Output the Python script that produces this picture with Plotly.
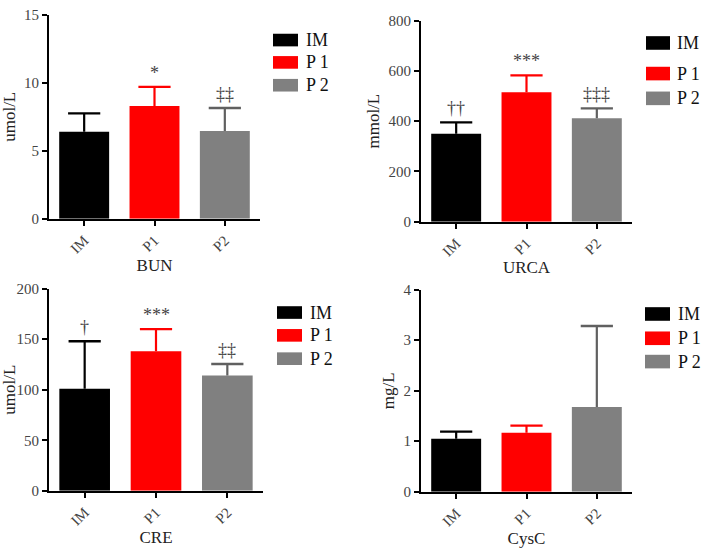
import plotly.graph_objects as go

W, H = 704, 559

groups = ["IM", "P1", "P2"]
legend_labels = ["IM", "P 1", "P 2"]
colors = ["#000000", "#ff0000", "#808080"]
err_colors = ["#000000", "#ff0000", "#606060"]

bun_mean = [6.4, 8.3, 6.45]
bun_sd = [1.35, 1.4, 1.7]
bun_sig = ["", "*", "‡‡"]

urca_mean = [350, 515, 412]
urca_sd = [45, 67, 39]
urca_sig = ["††", "***", "‡‡‡"]

cre_mean = [101, 138, 114]
cre_sd = [47, 22, 11.5]
cre_sig = ["†", "***", "‡‡"]

cysc_mean = [1.05, 1.17, 1.68]
cysc_sd = [0.14, 0.14, 1.6]
cysc_sig = ["", "", ""]

panels = [
    dict(name="BUN", unit="umol/L", mean=bun_mean, sd=bun_sd, sig=bun_sig,
         ymax=15, dtick=5, px=(49, 260), py=(7, 217),
         leg=dict(x0=273, x1=298, tx=304, ys=[33, 56, 79.5], h=13)),
    dict(name="URCA", unit="mmol/L", mean=urca_mean, sd=urca_sd, sig=urca_sig,
         ymax=800, dtick=200, px=(421, 632), py=(13, 220),
         leg=dict(x0=646, x1=670, tx=675, ys=[36, 67.5, 93], h=14)),
    dict(name="CRE", unit="umol/L", mean=cre_mean, sd=cre_sd, sig=cre_sig,
         ymax=200, dtick=50, px=(49, 263), py=(289, 497),
         leg=dict(x0=277, x1=302, tx=308, ys=[313.5, 337, 361], h=13)),
    dict(name="CysC", unit="mg/L", mean=cysc_mean, sd=cysc_sd, sig=cysc_sig,
         ymax=4, dtick=1, px=(421, 632), py=(290, 498),
         leg=dict(x0=645, x1=670, tx=676, ys=[315, 340, 364], h=14)),
]

FONT = "Liberation Serif, Times New Roman, serif"

fig = go.Figure()
shapes = []
annotations = []


def fx(p):
    return p / W


def fy(p):
    return 1 - p / H


for i, p in enumerate(panels, start=1):
    xa = "x" if i == 1 else f"x{i}"
    ya = "y" if i == 1 else f"y{i}"
    for g, m, s, c, ec in zip(groups, p["mean"], p["sd"], colors, err_colors):
        fig.add_trace(go.Bar(
            x=[g], y=[m], xaxis=xa, yaxis=ya, width=0.71,
            marker=dict(color=c, line=dict(width=0)),
            error_y=dict(type="data", symmetric=False, array=[s], arrayminus=[0],
                         color=ec, thickness=2.2, width=0),
            showlegend=False, name=g,
        ))
        # error bar cap at mean + sd
        fig.add_trace(go.Scatter(
            x=[g], y=[m + s], xaxis=xa, yaxis=ya, mode="markers",
            marker=dict(symbol="line-ew", size=23, color=ec,
                        line=dict(color=ec, width=2.4)),
            showlegend=False, hoverinfo="skip",
        ))
    for g, m, s, t in zip(groups, p["mean"], p["sd"], p["sig"]):
        if t:
            annotations.append(dict(
                x=g, y=m + s, xref=xa, yref=ya, text=t, showarrow=False,
                yanchor="bottom", yshift=2,
                font=dict(family=FONT, size=18, color="#444444")))
    axis_common = dict(showline=True, linecolor="black", linewidth=2,
                       ticks="outside", ticklen=5, tickwidth=2, tickcolor="black",
                       showgrid=False, zeroline=False,
                       tickfont=dict(family=FONT, size=15, color="#444444"))
    fig.layout[f"xaxis{'' if i == 1 else i}"] = dict(
        domain=[fx(p["px"][0]), fx(p["px"][1])], anchor=ya,
        range=[-0.5, 2.5], tickangle=-45,
        title=dict(text=p["name"], standoff=3,
                   font=dict(family=FONT, size=17, color="#222222")),
        **axis_common)
    fig.layout[f"yaxis{'' if i == 1 else i}"] = dict(
        domain=[fy(p["py"][1]), fy(p["py"][0])], anchor=xa,
        range=[0, p["ymax"]], dtick=p["dtick"],
        title=dict(text=p["unit"], standoff=5,
                   font=dict(family=FONT, size=17, color="#222222")),
        **axis_common)
    lg = p["leg"]
    for lab, c, yc in zip(legend_labels, colors, lg["ys"]):
        shapes.append(dict(type="rect", xref="paper", yref="paper",
                           x0=fx(lg["x0"]), x1=fx(lg["x1"]),
                           y0=fy(yc + lg["h"] / 2), y1=fy(yc - lg["h"] / 2),
                           fillcolor=c, line=dict(width=0)))
        annotations.append(dict(x=fx(lg["tx"]), y=fy(yc), xref="paper", yref="paper",
                                text=lab, showarrow=False, xanchor="left",
                                yanchor="middle",
                                font=dict(family=FONT, size=18, color="#111111")))

fig.update_layout(
    width=W, height=H, margin=dict(l=0, r=0, t=0, b=0),
    paper_bgcolor="white", plot_bgcolor="white",
    barmode="overlay", showlegend=False,
    shapes=shapes, annotations=annotations,
    font=dict(family=FONT),
)

fig.write_html("out.html", config={"displayModeBar": False},
               post_script="document.body.style.margin='0';document.body.style.overflow='hidden';")
